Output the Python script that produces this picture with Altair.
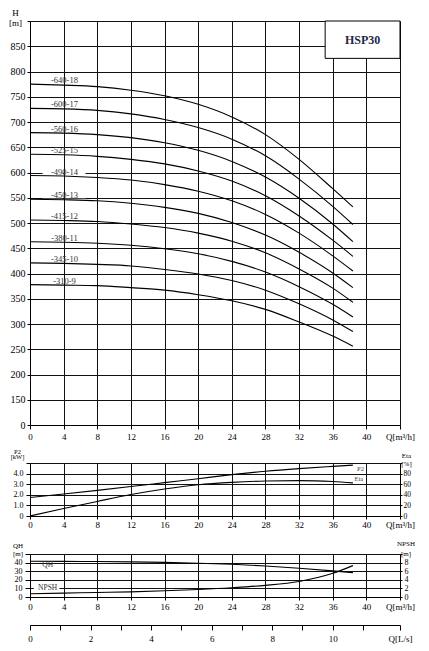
import altair as alt
import pandas as pd

# ---------------- data ----------------
Q = [0, 4, 8, 12, 16, 20, 24, 28, 32, 36, 38.4]          # m3/h

STAGE_LABELS = ["-640-18", "-600-17", "-560-16", "-525-15", "-490-14",
                "-450-13", "-415-12", "-380-11", "-345-10", "-310-9"]
H_18 = [775, 773, 770, 763, 752, 735, 710, 675, 626, 568, 532]
H_17 = [727, 726, 723, 716, 705, 689, 666, 633, 587, 533, 497]
H_16 = [679, 678, 675, 669, 659, 644, 622, 591, 549, 498, 463]
H_15 = [636, 635, 632, 626, 617, 603, 583, 554, 514, 466, 434]
H_14 = [594, 593, 590, 585, 576, 563, 544, 517, 480, 435, 405]
H_13 = [547, 546, 544, 539, 531, 519, 501, 476, 442, 401, 372]
H_12 = [506, 505, 503, 498, 491, 480, 464, 441, 409, 371, 343]
H_11 = [463, 462, 460, 456, 449, 439, 424, 403, 374, 339, 314]
H_10 = [421, 420, 418, 415, 408, 399, 386, 367, 340, 308, 285]
H_9 = [378, 377, 376, 372, 367, 358, 346, 329, 304, 276, 256]
H_CURVES = [H_18, H_17, H_16, H_15, H_14, H_13, H_12, H_11, H_10, H_9]

P2_KW = [1.75, 2.08, 2.42, 2.78, 3.15, 3.52, 3.9, 4.22, 4.47, 4.68, 4.8]
ETA_PCT = [0, 14, 27.5, 40.5, 51, 59, 63.5, 66, 66.8, 65, 62.5]

QH_M = [41.5, 41.4, 41.25, 40.9, 40.3, 39.3, 38.0, 36.1, 33.5, 30.4, 28.3]
NPSH_M = [0.75, 0.9, 1.05, 1.2, 1.45, 1.75, 2.15, 2.7, 3.6, 5.5, 7.3]

Q_TICKS = [0, 4, 8, 12, 16, 20, 24, 28, 32, 36, 40, 44]
H_TICKS = [100, 150, 200, 250, 300, 350, 400, 450, 500, 550, 600, 650, 700,
           750, 800, 850, 900]
P2_TICKS = [0, 1, 2, 3, 4, 5]
ETA_TICKS = [0, 20, 40, 60, 80, 100]
QH_TICKS = [0, 10, 20, 30, 40, 50]
NPSH_TICKS = [0, 2, 4, 6, 8, 10]
LS_TICKS = [0, 1, 2, 3, 4, 5, 6, 7, 8, 9, 10, 11, 44 / 3.6]

MODEL = "HSP30"
MID_LABELS = ["P2", "Eta"]
BOT_LABELS = ["QH", "NPSH"]

# ---------------- layout / style ----------------
W = 370
H_TOP = 404
H_MID = 53
H_BOT = 43
FONT = "Liberation Serif"
Q_MAX = 44

XS = alt.Scale(domain=[0, Q_MAX], nice=False, zero=False)
QLAB = "datum.value == 44 ? 'Q[m\u00b3/h]' : datum.label"


def q_axis(tick, pad):
    return alt.Axis(values=Q_TICKS, labelExpr=QLAB, grid=True, title=None,
                    tickSize=tick, labelPadding=pad, labelFlush=False,
                    labelOverlap=False, labelFontSize=9)


# ---------------- top chart: H-Q curves ----------------
df_curves = pd.DataFrame(
    [{"Q": q, "H": h, "curve": lab}
     for lab, arr in zip(STAGE_LABELS, H_CURVES) for q, h in zip(Q, arr)]
)
df_lab = pd.DataFrame({
    "curve": STAGE_LABELS,
    "H0": [arr[0] for arr in H_CURVES],
})
df_lab["lx"] = 4.1

# white label backgrounds, split so the Q=4 grid line stays visible
bg_parts = []
for x1, x2 in [(1.5, 3.9), (4.15, 6.6)]:
    part = df_lab[["curve", "H0"]].copy()
    part["bx1"] = x1
    part["bx2"] = x2
    bg_parts.append(part)
df_bg = pd.concat(bg_parts, ignore_index=True)
df_bg["by1"] = df_bg["H0"] + 2
df_bg["by2"] = df_bg["H0"] + 10

YS_TOP = alt.Scale(domain=[100, 900], nice=False, zero=False)
top_x_axis = q_axis(4, 3)
top_y_axis = alt.Axis(
    values=H_TICKS,
    labelExpr="datum.value == 100 ? '0' : (datum.value == 900 ? '' : datum.label)",
    title=["H", "[m]"], titleAngle=0, titleAlign="center", titleBaseline="bottom",
    titleX=-15, titleY=-4, titleLineHeight=10, titleFontSize=9,
    titleFontWeight="normal", tickSize=3, labelPadding=2, labelFontSize=10,
    grid=True,
)

one = pd.DataFrame({"k": [0]})

lab_bg = alt.Chart(df_bg).mark_rect(color="white").encode(
    x=alt.X("bx1:Q", scale=XS, axis=top_x_axis), x2="bx2:Q",
    y=alt.Y("by1:Q", scale=YS_TOP, axis=top_y_axis), y2="by2:Q",
)
curves = alt.Chart(df_curves).mark_line(
    color="black", strokeWidth=1.1, interpolate="monotone"
).encode(
    x=alt.X("Q:Q", scale=XS, axis=top_x_axis),
    y=alt.Y("H:Q", scale=YS_TOP, axis=top_y_axis),
    detail="curve:N",
)
labels = alt.Chart(df_lab).mark_text(
    font=FONT, fontSize=8.5, color="#333", baseline="middle", dy=-4
).encode(
    x=alt.X("lx:Q", scale=XS, axis=top_x_axis),
    y=alt.Y("H0:Q", scale=YS_TOP, axis=top_y_axis),
    text="curve:N",
)
box = alt.Chart(one).mark_rect(fill="white", stroke="black", strokeWidth=1).encode(
    x=alt.X(datum=35.1, scale=XS, axis=top_x_axis), x2=alt.datum(44),
    y=alt.Y(datum=826, scale=YS_TOP, axis=top_y_axis), y2=alt.datum(900),
)
box_text = alt.Chart(one).mark_text(
    text=MODEL, font=FONT, fontSize=12, fontWeight="bold", color="#1c2a4a"
).encode(
    x=alt.X(datum=39.55, scale=XS, axis=top_x_axis),
    y=alt.Y(datum=863, scale=YS_TOP, axis=top_y_axis),
)

top = alt.layer(lab_bg, curves, labels, box, box_text).properties(
    width=W, height=H_TOP
)

# ---------------- middle chart: P2 and Eta ----------------
df_mid = pd.DataFrame({"Q": Q, "P2": P2_KW, "Eta": ETA_PCT})
df_mid_lab = pd.DataFrame({"t": MID_LABELS, "lx": [39.3, 39.1], "ly": [4.44, 3.5]})

mid_x = q_axis(3, 1)
p2_line = alt.Chart(df_mid).mark_line(
    color="black", strokeWidth=1.1, interpolate="monotone"
).encode(
    x=alt.X("Q:Q", scale=XS, axis=mid_x),
    y=alt.Y("P2:Q", scale=alt.Scale(domain=[0, 5], nice=False),
            axis=alt.Axis(
                values=P2_TICKS,
                labelExpr="datum.value == 0 ? '0' : (datum.value == 5 ? '' : format(datum.value, '.1f'))",
                title=["P2", "[kW]"], titleAngle=0, titleAlign="center",
                titleBaseline="bottom", titleX=-13, titleY=-9,
                titleLineHeight=5.5, titleFontSize=6.5, titleFontWeight="normal",
                tickSize=4, labelPadding=3, labelFontSize=8, grid=True)),
)
eta_line = alt.Chart(df_mid).mark_line(
    color="black", strokeWidth=1.1, interpolate="monotone"
).encode(
    x=alt.X("Q:Q", scale=XS, axis=mid_x),
    y=alt.Y("Eta:Q", scale=alt.Scale(domain=[0, 100], nice=False),
            axis=alt.Axis(
                orient="right", values=ETA_TICKS,
                labelExpr="datum.value == 100 ? '' : datum.label",
                title=["Eta", "[%]"], titleAngle=0, titleAlign="center",
                titleBaseline="bottom", titleX=6, titleY=-5,
                titleLineHeight=8.5, titleFontSize=7, titleFontWeight="normal",
                tickSize=2, labelPadding=1, labelFontSize=7.5, grid=False)),
)
mid_text = alt.Chart(df_mid_lab).mark_text(
    font=FONT, fontSize=6.5, color="#444", baseline="middle"
).encode(
    x=alt.X("lx:Q", scale=XS, axis=mid_x),
    y=alt.Y("ly:Q", scale=alt.Scale(domain=[0, 5], nice=False), axis=None),
    text="t:N",
)
mid = alt.layer(p2_line, eta_line, mid_text).resolve_scale(
    y="independent"
).properties(width=W, height=H_MID)

# ---------------- bottom chart: QH and NPSH ----------------
df_bot = pd.DataFrame({"Q": Q, "QH": QH_M, "NPSH": NPSH_M})
df_bot_lab = pd.DataFrame({"t": BOT_LABELS, "lx": [2.1, 2.1], "ly": [37.2, 10.3]})
df_npsh_bg = pd.DataFrame({"x1": [0.45], "x2": [3.5], "y1": [8.2], "y2": [12.8]})
df_ls = pd.DataFrame({"Ls": LS_TICKS})

bot_x = q_axis(3, 2)
QH_SCALE = alt.Scale(domain=[0, 50], nice=False)

qh_line = alt.Chart(df_bot).mark_line(
    color="black", strokeWidth=1.1, interpolate="monotone"
).encode(
    x=alt.X("Q:Q", scale=XS, axis=bot_x),
    y=alt.Y("QH:Q", scale=QH_SCALE,
            axis=alt.Axis(
                values=QH_TICKS,
                labelExpr="datum.value == 50 ? '' : datum.label",
                title=["QH", "[m]"], titleAngle=0, titleAlign="center",
                titleBaseline="bottom", titleX=-12.5, titleY=-5.5,
                titleLineHeight=8, titleFontSize=7, titleFontWeight="normal",
                tickSize=5, labelPadding=3, labelFontSize=8, grid=True)),
)
npsh_line = alt.Chart(df_bot).mark_line(
    color="black", strokeWidth=1.1, interpolate="monotone"
).encode(
    x=alt.X("Q:Q", scale=XS, axis=None),
    y=alt.Y("NPSH:Q", scale=alt.Scale(domain=[0, 10], nice=False),
            axis=alt.Axis(
                orient="right", values=NPSH_TICKS,
                labelExpr="datum.value == 10 ? '' : datum.label",
                title=["NPSH", "[m]"], titleAngle=0, titleAlign="center",
                titleBaseline="bottom", titleX=5.5, titleY=-8,
                titleLineHeight=10, titleFontSize=7, titleFontWeight="normal",
                tickSize=2, labelPadding=2, labelFontSize=8, grid=False)),
)
npsh_bg = alt.Chart(df_npsh_bg).mark_rect(color="white").encode(
    x=alt.X("x1:Q", scale=XS, axis=None), x2="x2:Q",
    y=alt.Y("y1:Q", scale=QH_SCALE, axis=None), y2="y2:Q",
)
bot_text = alt.Chart(df_bot_lab).mark_text(
    font=FONT, fontSize=7.5, color="#333", baseline="middle"
).encode(
    x=alt.X("lx:Q", scale=XS, axis=None),
    y=alt.Y("ly:Q", scale=QH_SCALE, axis=None),
    text="t:N",
)
ls_axis = alt.Chart(df_ls).mark_point(opacity=0).encode(
    x=alt.X("Ls:Q", scale=alt.Scale(domain=[0, Q_MAX / 3.6], nice=False, zero=False),
            axis=alt.Axis(
                orient="bottom", offset=28, values=LS_TICKS,
                labelExpr="datum.value > 12 ? 'Q[L/s]' : (datum.value % 2 == 0 ? datum.label : '')",
                grid=False, title=None, tickSize=5, labelPadding=4,
                labelFlush=False, labelOverlap=False, labelFontSize=9)),
)
bot = alt.layer(npsh_bg, qh_line, npsh_line, bot_text, ls_axis).resolve_scale(
    x="independent", y="independent"
).properties(width=W, height=H_BOT)

chart = alt.vconcat(top, mid, bot, spacing=38, bounds="flush").properties(
    padding={"left": 0, "top": 0, "right": 2, "bottom": 2}
).configure_view(stroke=None).configure_axis(
    domainColor="black", tickColor="black", gridColor="#111", gridWidth=1,
    domainWidth=1, tickWidth=1, labelFont=FONT, titleFont=FONT,
    labelColor="black", titleColor="black",
)

chart.save("out.html", embed_options={"renderer": "svg", "actions": False})
